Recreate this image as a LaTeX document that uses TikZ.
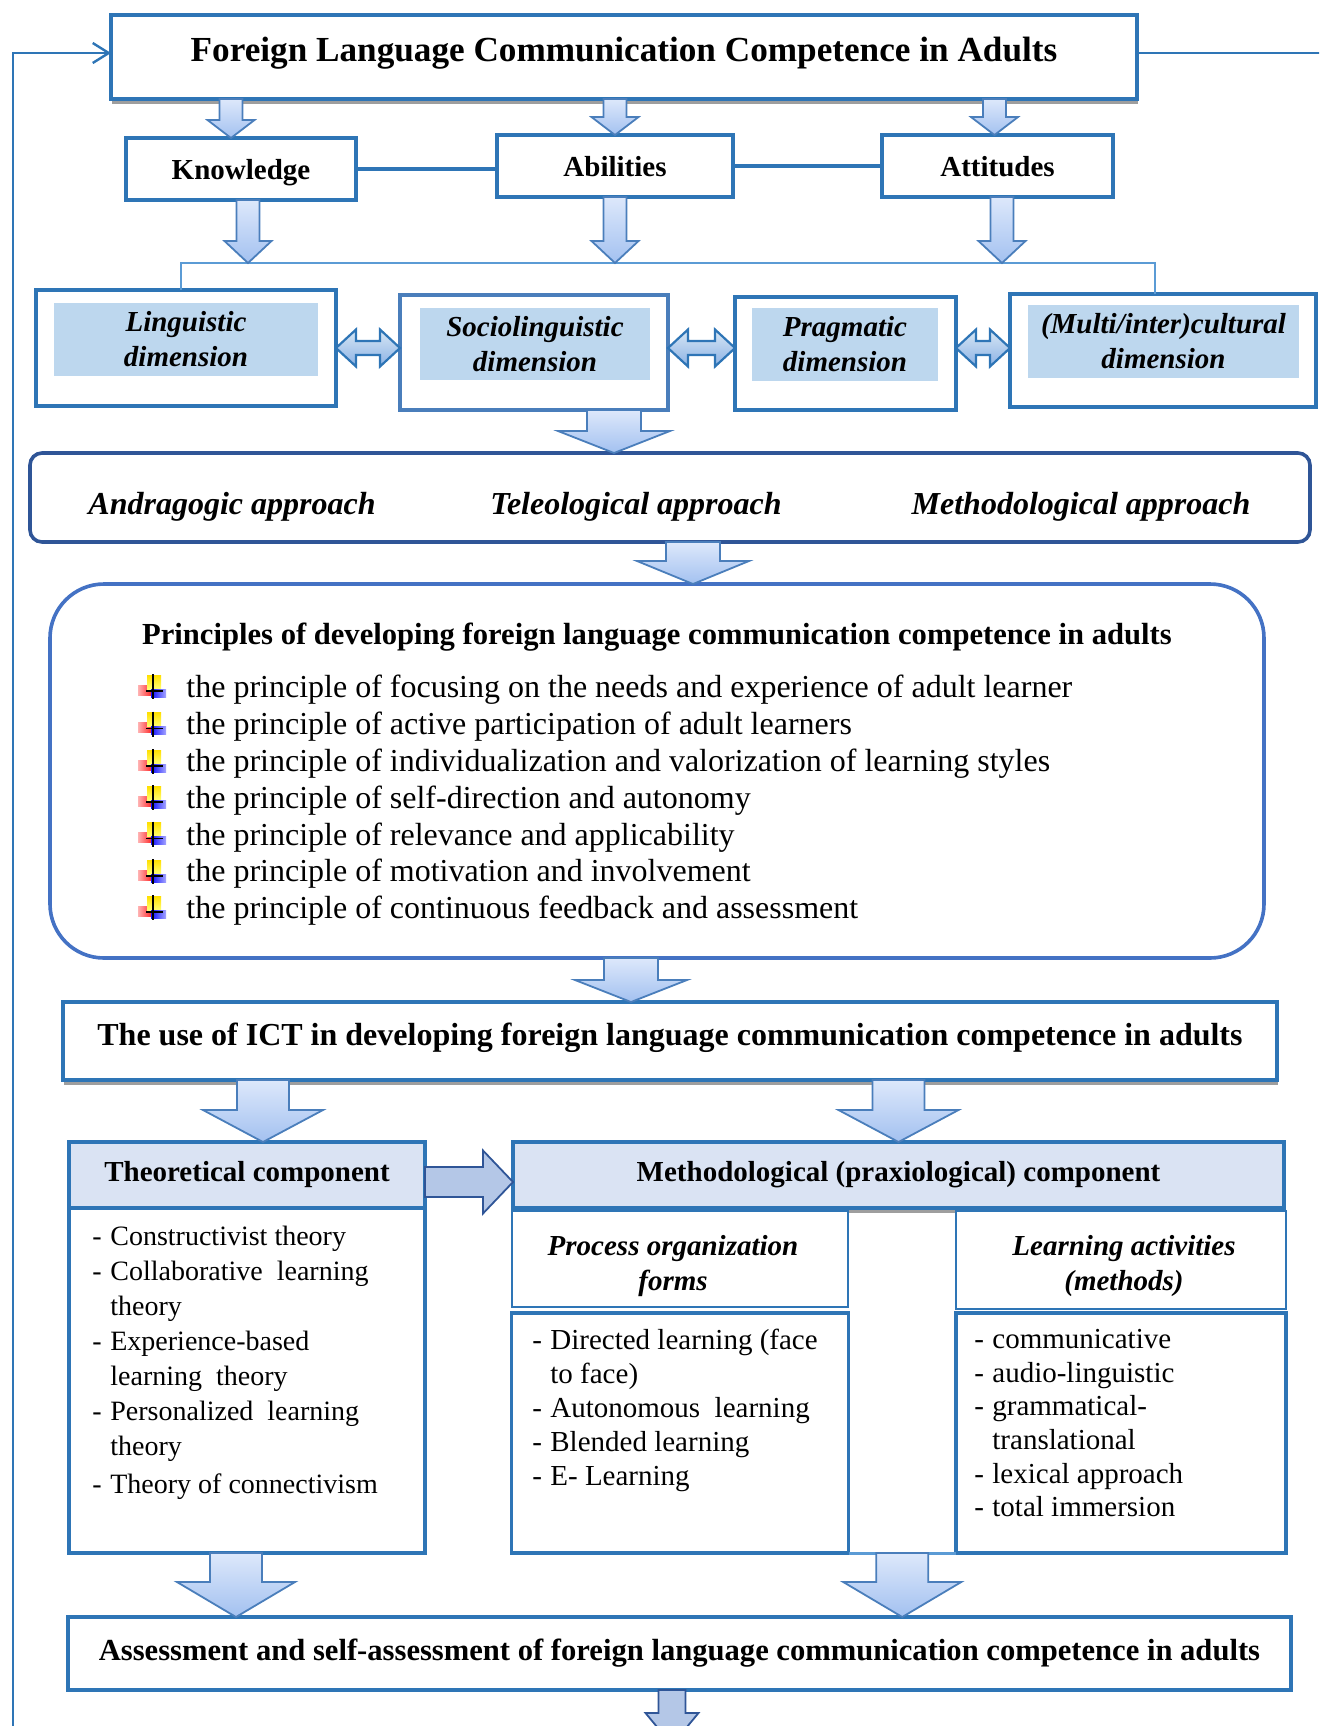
\documentclass[tikz,border=0pt]{standalone}
\usepackage{fontspec}
\setmainfont{Liberation Serif}
\usepackage{tikz}
\usetikzlibrary{arrows.meta,positioning,calc,shadows}
\usepackage{xcolor}

\definecolor{boxblue}{HTML}{2E75B6}
\definecolor{darkblue}{HTML}{2F5597}
\definecolor{lineblue}{HTML}{5B9BD5}
\definecolor{princblue}{HTML}{4472C4}
\definecolor{sociblue}{HTML}{4A7EBB}
\definecolor{dimfill}{HTML}{BDD7EE}
\definecolor{headfill}{HTML}{DAE3F3}
\definecolor{arrowedge}{HTML}{4A7EBB}
\definecolor{arrowtop}{HTML}{DDE8FB}
\definecolor{arrowbot}{HTML}{A3C1F0}
\definecolor{flatfill}{HTML}{B4C7E7}

% 太い矢印（下向き）: 上端, 先端, 軸の半幅, 頭の半幅, 頭の長さ
\newcommand{\fatdown}[6][fatarrow]{%
  \path[#1] let \p1=(#2), \p2=(#3) in
    (\x1-#4,\y1) -- (\x1+#4,\y1) -- (\x1+#4,\y2+#6) -- (\x1+#5,\y2+#6)
    -- (\x1,\y2) -- (\x1-#5,\y2+#6) -- (\x1-#4,\y2+#6) -- cycle;}
% 両向きの太い矢印
\newcommand{\fatboth}[5]{%
  \path[dimarrow] let \p1=(#1), \p2=(#2) in
    (\x1,\y1) -- (\x1+#5,\y1+#4) -- (\x1+#5,\y1+#3) -- (\x2-#5,\y1+#3)
    -- (\x2-#5,\y1+#4) -- (\x2,\y1) -- (\x2-#5,\y1-#4) -- (\x2-#5,\y1-#3)
    -- (\x1+#5,\y1-#3) -- (\x1+#5,\y1-#4) -- cycle;}
% 右向きの太い矢印
\newcommand{\fatright}[5]{%
  \path[flatarrow] let \p1=(#1), \p2=(#2) in
    (\x1,\y1+#3) -- (\x2-#5,\y1+#3) -- (\x2-#5,\y1+#4) -- (\x2,\y1)
    -- (\x2-#5,\y1-#4) -- (\x2-#5,\y1-#3) -- (\x1,\y1-#3) -- cycle;}
\newcommand{\dashitem}{\makebox[9pt][l]{-}}
\newcommand{\dashgap}{\hspace*{9pt}}

\begin{document}
\begin{tikzpicture}[x=0.5pt, y=-0.5pt, node distance=0pt,
  box/.style={draw=boxblue, line width=1.8pt, fill=white, inner sep=0pt, outer sep=0pt},
  shadowed/.style={drop shadow={shadow xshift=0.5pt, shadow yshift=-2.5pt, fill=black!38, opacity=1}},
  trio/.style={box, minimum height=31pt, text height=10pt, text depth=0pt, font=\fontsize{14.5pt}{17pt}\selectfont\bfseries},
  dimbox/.style={box, line width=1.6pt},
  dimtext/.style={fill=dimfill, inner sep=0pt, outer sep=0pt, align=center, font=\fontsize{14.5pt}{17.5pt}\selectfont\bfseries\itshape},
  apprtext/.style={font=\fontsize{16pt}{19pt}\selectfont\bfseries\itshape},
  headbox/.style={box, fill=headfill, font=\fontsize{14.5pt}{17pt}\selectfont\bfseries},
  subhead/.style={box, line width=1.1pt},
  subtext/.style={align=center, inner sep=0pt, font=\fontsize{14.5pt}{17.5pt}\selectfont\bfseries\itshape},
  listtext/.style={anchor=north west, inner sep=0pt, align=left},
  link/.style={draw=boxblue, line width=1.6pt},
  bracket/.style={draw=lineblue, line width=1.2pt},
  loopline/.style={draw=boxblue, line width=1.2pt},
  fatarrow/.style={draw=arrowedge, line width=0.9pt, top color=arrowtop, bottom color=arrowbot},
  dimarrow/.style={draw=boxblue, line width=1.1pt, top color=dimfill!60, bottom color=arrowbot!80!boxblue},
  flatarrow/.style={draw=darkblue, line width=0.9pt, fill=flatfill}]
  \useasboundingbox (0,0) rectangle (1319,1726);
  \clip (0,0) rectangle (1319,1726);

  % 最上段
  \node (title) [box, shadowed, minimum width=513pt, minimum height=42pt,
    font=\fontsize{17.6pt}{21pt}\selectfont\bfseries, text height=12pt, text depth=7.5pt]
    at (624,57) {Foreign Language Communication Competence in Adults};

  % 三つの要素
  \node (know) [trio, minimum width=115pt] at (241,169) {Knowledge};
  \node (abil) [trio, minimum width=118pt] at (615,166) {Abilities};
  \node (att) [trio, minimum width=115.5pt] at (997.5,166) {Attitudes};

  % 次元
  \node (ling) [dimbox, minimum width=150pt, minimum height=58pt] at (186,348) {};
  \node (lingtx) [dimtext, minimum width=132pt, minimum height=36.5pt] at (186,339.5) {Linguistic\\dimension};
  \node (socio) [dimbox, draw=sociblue, line width=2.2pt, minimum width=134pt, minimum height=57.5pt] at (534,352.5) {};
  \node (sociotx) [dimtext, minimum width=115pt, minimum height=36pt] at (535,344) {Sociolinguistic\\dimension};
  \node (prag) [dimbox, minimum width=110.5pt, minimum height=56.5pt] at (845.5,353.5) {};
  \node (pragtx) [dimtext, minimum width=93pt, minimum height=36.5pt] at (845,344.5) {Pragmatic\\dimension};
  \node (multi) [dimbox, minimum width=153pt, minimum height=56.5pt] at (1163,350.5) {};
  \node (multitx) [dimtext, minimum width=135.5pt, minimum height=36.5pt] at (1163.5,341.5) {(Multi/inter)cultural\\dimension};

  % アプローチ
  \node (appr) [box, draw=darkblue, rounded corners=6pt, minimum width=640pt, minimum height=44.5pt] at (670,497.5) {};
  \node (andr) [apprtext] at (232,507) {Andragogic approach};
  \node (tele) [apprtext] at (636,507) {Teleological approach};
  \node (metho) [apprtext] at (1081,507) {Methodological approach};

  % 原則
  \node (princ) [box, draw=princblue, rounded corners=27pt, minimum width=607pt, minimum height=187pt] at (657,771) {};
  \node (princtitle) [font=\fontsize{15.3pt}{18pt}\selectfont\bfseries] at (657,637)
    {Principles of developing foreign language communication competence in adults};
  \node (princlist) [listtext, font=\fontsize{16pt}{18.4pt}\selectfont] at (186,675)
    {the principle of focusing on the needs and experience of adult learner\\
     the principle of active participation of adult learners\\
     the principle of individualization and valorization of learning styles\\
     the principle of self-direction and autonomy\\
     the principle of relevance and applicability\\
     the principle of motivation and involvement\\
     the principle of continuous feedback and assessment};
  \foreach \y in {689,726.5,764,800,836.5,874,910}{
    \path[left color=red!30, right color=red!90] (138,\y-4) rectangle (153,\y+6);
    \path[top color=yellow!75!orange, bottom color=yellow!55] (147,\y-14) rectangle (161,\y);
    \path[left color=blue!95, right color=blue!35] (151,\y) rectangle (166,\y+8);
    \draw[line width=0.9pt] (153,\y-15) -- (153,\y+10);
    \draw[line width=0.9pt] (146,\y+2) -- (163,\y+2);
  }

  % ICT
  \node (ict) [box, shadowed, minimum width=607pt, minimum height=39pt, text height=11pt, text depth=6.8pt,
    font=\fontsize{16pt}{19pt}\selectfont\bfseries] at (670,1041)
    {The use of ICT in developing foreign language communication competence in adults};

  % 理論的要素
  \node (theohead) [headbox, minimum width=178pt, minimum height=33pt] at (247,1175) {Theoretical component};
  \node (theobody) [box, below=of theohead, minimum width=178pt, minimum height=172.5pt] {};
  \node (theolist) [listtext, font=\fontsize{14pt}{17.5pt}\selectfont] at (92,1226)
    {\dashitem Constructivist theory\\
     \dashitem Collaborative\ \ learning\\
     \dashgap theory\\
     \dashitem Experience-based\\
     \dashgap learning\ \ theory\\
     \dashitem Personalized\ \ learning\\
     \dashgap theory\\[1.5pt]
     \dashitem Theory of connectivism};

  % 方法論的要素
  \node (methhead) [headbox, shadowed, minimum width=385.5pt, minimum height=33pt] at (898.5,1175)
    {Methodological (praxiological) component};
  \node (prochead) [subhead, minimum width=168pt, minimum height=48pt] at (680,1259) {};
  \node (proctx) [subtext] at (673,1266) {Process organization\\forms};
  \node (procbody) [box, below=3pt of prochead, minimum width=168.5pt, minimum height=120pt] {};
  \node (proclist) [listtext, font=\fontsize{14.5pt}{17pt}\selectfont] at (532,1329)
    {\dashitem Directed learning (face\\
     \dashgap to face)\\
     \dashitem Autonomous\ \ learning\\
     \dashitem Blended learning\\
     \dashitem E- Learning};
  \node (learnhead) [subhead, minimum width=165pt, minimum height=49pt] at (1121,1260) {};
  \node (learntx) [subtext] at (1124,1266) {Learning activities\\(methods)};
  \node (learnbody) [box, below=2pt of learnhead, minimum width=165pt, minimum height=120pt] {};
  \node (learnlist) [listtext, font=\fontsize{14.5pt}{16.8pt}\selectfont] at (974,1329)
    {\dashitem communicative\\
     \dashitem audio-linguistic\\
     \dashitem grammatical-\\
     \dashgap translational\\
     \dashitem lexical approach\\
     \dashitem total immersion};
  \coordinate (gap) at ($(procbody.south east)!0.5!(learnbody.south west)$);
  \draw[draw=lineblue, line width=1.5pt] (procbody.south east) -- (learnbody.south west);

  % 評価
  \node (assess) [box, minimum width=611.5pt, minimum height=36.5pt,
    font=\fontsize{15.3pt}{18pt}\selectfont\bfseries] at (679.5,1653.5)
    {Assessment and self-assessment of foreign language communication competence in adults};

  % 線と括弧
  \coordinate (brk) at (0,263);
  \coordinate (loopbot) at (13,1740);
  \coordinate (loopend) at (1330,53);
  \coordinate (out) at (672,1745);
  \draw[link] (know.east) -- (know.east -| abil.west);
  \draw[link] (abil.east) -- (att.west);
  \draw[bracket] ([xshift=-2.5pt]ling.north) -- ([xshift=-2.5pt]ling.north |- brk)
    -- ([xshift=-4pt]multi.north |- brk) -- ([xshift=-4pt]multi.north);
  \draw[loopline, -{Straight Barb[length=8pt,width=10pt]}] (loopbot) |- ([yshift=2pt]title.west);
  \draw[loopline] ([yshift=2pt]title.east) -- (loopend);

  % 太い矢印
  \fatdown{$(title.south -| know.north)+(-10,0)$}{know.north}{5.75pt}{11.75pt}{9pt}
  \fatdown{title.south -| abil.north}{abil.north}{5.75pt}{11.75pt}{9pt}
  \fatdown{$(title.south -| att.north)+(-3,0)$}{att.north}{5.75pt}{11.75pt}{9pt}
  \fatdown{$(know.south)+(7,0)$}{brk}{5.75pt}{11.75pt}{11pt}
  \fatdown{abil.south}{brk}{5.75pt}{11.75pt}{11pt}
  \fatdown{$(att.south)+(4.5,0)$}{brk}{5.75pt}{11.75pt}{11pt}
  \fatboth{ling.east}{socio.west |- ling.east}{3.5pt}{9.25pt}{10pt}
  \fatboth{socio.east |- ling.east}{prag.west |- ling.east}{3.5pt}{9.25pt}{10pt}
  \fatboth{prag.east |- ling.east}{multi.west |- ling.east}{3.5pt}{9.25pt}{10pt}
  \fatdown{$(socio.south)+(80,0)$}{appr.north}{13.5pt}{28pt}{11pt}
  \fatdown{$(appr.south)+(23,0)$}{princ.north}{13.5pt}{28pt}{11.5pt}
  \fatdown{$(princ.south)+(-26,0)$}{ict.north}{13.5pt}{28pt}{11pt}
  \fatdown{$(ict.south -| theohead.north)+(16,0)$}{theohead.north}{13pt}{30pt}{16pt}
  \fatdown{ict.south -| methhead.north}{methhead.north}{13pt}{30pt}{16pt}
  \fatright{$(theohead.east)+(0,7)$}{methhead.west}{7.5pt}{15.75pt}{15pt}
  \fatdown{$(theobody.south)+(-11,0)$}{assess.north}{13pt}{29.5pt}{17.5pt}
  \fatdown{gap}{assess.north}{13pt}{29.5pt}{17.5pt}
  \fatdown[flatarrow]{$(assess.south)+(-7.5,0)$}{out}{6.75pt}{13.25pt}{16pt}
\end{tikzpicture}
\end{document}
